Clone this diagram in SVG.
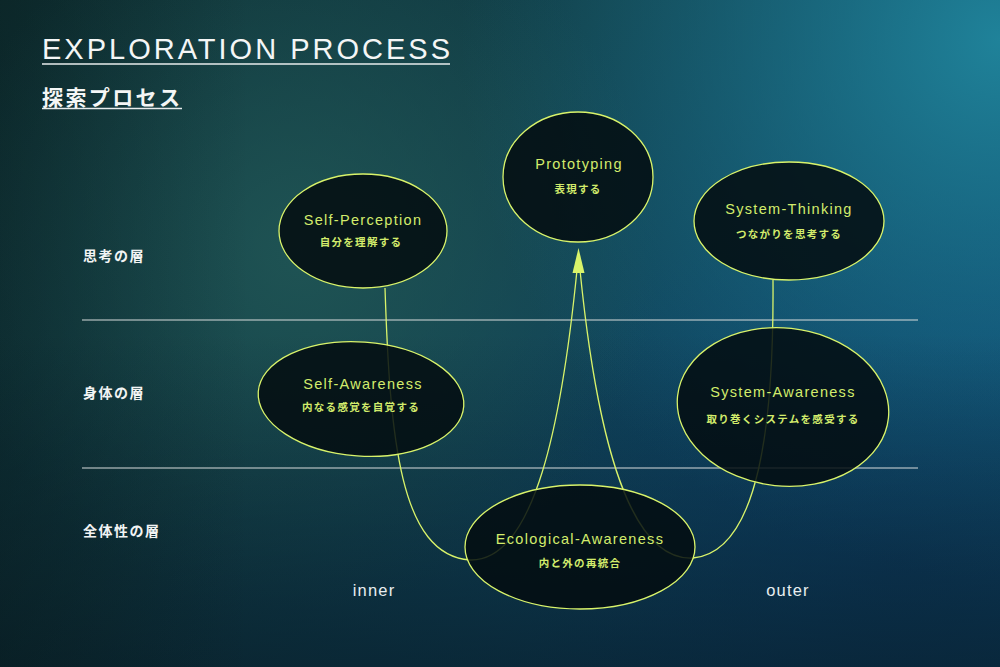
<svg xmlns="http://www.w3.org/2000/svg" width="1000" height="667" viewBox="0 0 1000 667">
  <defs>
    <linearGradient id="bg" x1="0" y1="0" x2="1" y2="0.6">
      <stop offset="0" stop-color="#0f3133"/>
      <stop offset="0.45" stop-color="#12404a"/>
      <stop offset="1" stop-color="#0e4b72"/>
    </linearGradient>
    <radialGradient id="glowTR" cx="1000" cy="40" r="540" gradientUnits="userSpaceOnUse">
      <stop offset="0" stop-color="#2189a0" stop-opacity="0.9"/>
      <stop offset="1" stop-color="#1a6f88" stop-opacity="0"/>
    </radialGradient>
    <radialGradient id="glowC" cx="300" cy="250" r="360" gradientUnits="userSpaceOnUse">
      <stop offset="0" stop-color="#215756" stop-opacity="0.85"/>
      <stop offset="1" stop-color="#215756" stop-opacity="0"/>
    </radialGradient>
    <radialGradient id="glowBR" cx="900" cy="560" r="380" gradientUnits="userSpaceOnUse">
      <stop offset="0" stop-color="#0d3f66" stop-opacity="0.8"/>
      <stop offset="1" stop-color="#0d3f66" stop-opacity="0"/>
    </radialGradient>
    <linearGradient id="shade" x1="0" y1="0" x2="0" y2="1">
      <stop offset="0.5" stop-color="#06141c" stop-opacity="0"/>
      <stop offset="1" stop-color="#06141c" stop-opacity="0.6"/>
    </linearGradient>
    <linearGradient id="shadeL" x1="0" y1="0" x2="1" y2="0">
      <stop offset="0" stop-color="#061416" stop-opacity="0.35"/>
      <stop offset="0.25" stop-color="#061416" stop-opacity="0"/>
    </linearGradient>
    <style>
      .node ellipse { fill: #040d10; fill-opacity: 0.86; stroke: #d9f36a; stroke-width: 1.3; }
      .en { font-family: "Liberation Sans", "Noto Sans", sans-serif; font-size: 14.5px; letter-spacing: 1.3px; fill: #d3ec6c; text-anchor: middle; }
      .jp { font-family: "Noto Sans CJK JP", sans-serif; font-size: 10.5px; font-weight: bold; letter-spacing: 1.3px; fill: #d3ec6c; text-anchor: middle; }
      .layer { font-family: "Noto Sans CJK JP", sans-serif; font-size: 14px; font-weight: bold; letter-spacing: 1.5px; fill: #f2f4f4; }
      .side { font-family: "Liberation Sans", "Noto Sans", sans-serif; font-size: 16.5px; letter-spacing: 1.2px; fill: #e8eef0; text-anchor: middle; }
      .conn path { fill: none; stroke: #d9f36a; stroke-width: 1.3; }
      .rule { stroke: #d8dcdc; stroke-width: 1.2; }
    </style>
  </defs>

  <rect width="1000" height="667" fill="url(#bg)"/>
  <rect width="1000" height="667" fill="url(#glowC)"/>
  <rect width="1000" height="667" fill="url(#glowBR)"/>
  <rect width="1000" height="667" fill="url(#glowTR)"/>
  <rect width="1000" height="667" fill="url(#shade)"/>
  <rect width="1000" height="667" fill="url(#shadeL)"/>

  <g id="title">
    <text x="42" y="59" font-family="'Liberation Sans', sans-serif" font-size="29" letter-spacing="3" fill="#f4f6f6">EXPLORATION PROCESS</text>
    <line x1="42" y1="64" x2="450" y2="64" stroke="#e8eced" stroke-width="1.5"/>
    <text x="42" y="105" font-family="'Noto Sans CJK JP', sans-serif" font-size="21" font-weight="bold" letter-spacing="2.4" fill="#f4f6f6">探索プロセス</text>
    <line x1="42" y1="108.5" x2="182" y2="108.5" stroke="#e8eced" stroke-width="1.5"/>
  </g>

  <g id="layers">
    <line class="rule" x1="82" y1="320" x2="918" y2="320"/>
    <line class="rule" x1="82" y1="468" x2="918" y2="468"/>
    <text class="layer" x="83" y="261">思考の層</text>
    <text class="layer" x="83" y="398">身体の層</text>
    <text class="layer" x="83" y="536">全体性の層</text>
    <text class="side" x="374" y="596">inner</text>
    <text class="side" x="788" y="596">outer</text>
  </g>

  <g id="connectors" class="conn">
    <path d="M385,288 C390,440 400,555 470,560 C535,562 562,420 577,270"/>
    <path d="M773,280 C774,420 760,552 693,558 C625,562 595,420 580,270"/>
    <polygon points="578.5,248 572.5,273 584.5,273" fill="#d9f36a"/>
  </g>

  <g id="self-perception" class="node">
    <ellipse cx="363" cy="231" rx="84" ry="57"/>
    <text class="en" x="363" y="225">Self-Perception</text>
    <text class="jp" x="361" y="246">自分を理解する</text>
  </g>

  <g id="prototyping" class="node">
    <ellipse cx="578" cy="177" rx="75" ry="65"/>
    <text class="en" x="579" y="169">Prototyping</text>
    <text class="jp" x="578" y="193">表現する</text>
  </g>

  <g id="system-thinking" class="node">
    <ellipse cx="789" cy="221" rx="95" ry="59"/>
    <text class="en" x="789" y="214">System-Thinking</text>
    <text class="jp" x="789" y="238">つながりを思考する</text>
  </g>

  <g id="self-awareness" class="node">
    <ellipse cx="361" cy="399" rx="103" ry="57" transform="rotate(4 361 399)"/>
    <text class="en" x="363" y="389">Self-Awareness</text>
    <text class="jp" x="361" y="411">内なる感覚を自覚する</text>
  </g>

  <g id="system-awareness" class="node">
    <ellipse cx="783" cy="407" rx="106" ry="79" transform="rotate(6 783 407)"/>
    <text class="en" x="783" y="397">System-Awareness</text>
    <text class="jp" x="783" y="423">取り巻くシステムを感受する</text>
  </g>

  <g id="ecological-awareness" class="node">
    <ellipse cx="580" cy="547" rx="115" ry="62"/>
    <text class="en" x="580" y="544">Ecological-Awareness</text>
    <text class="jp" x="580" y="567">内と外の再統合</text>
  </g>
</svg>
